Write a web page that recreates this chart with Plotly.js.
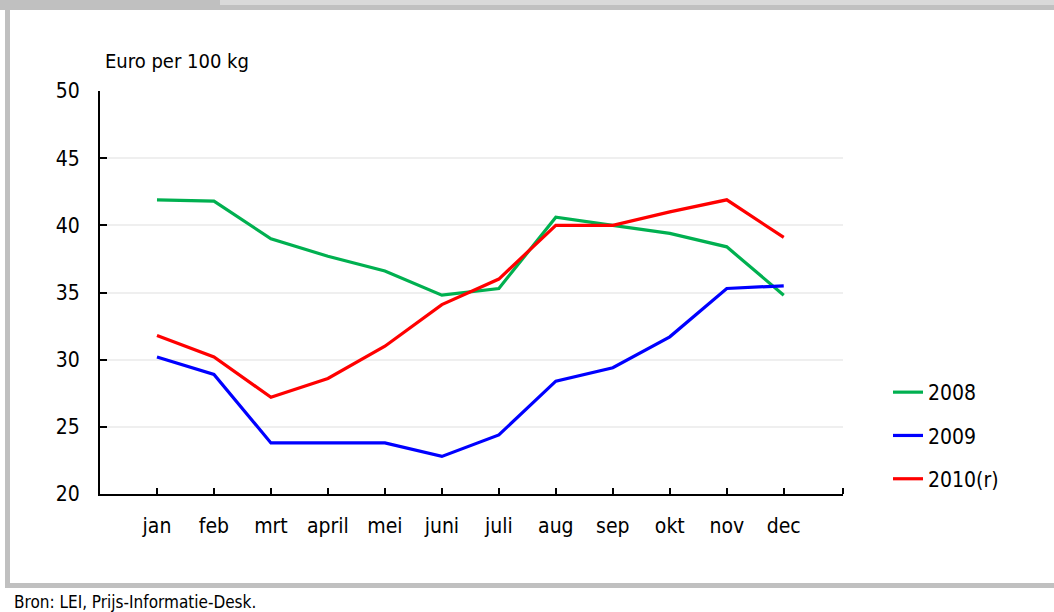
<!DOCTYPE html>
<html>
<head>
<meta charset="utf-8">
<script src="https://cdn.plot.ly/plotly-3.0.1.min.js"></script>
<style>
  html, body { margin: 0; padding: 0; background: #ffffff; }
  #wrap { position: relative; width: 1054px; height: 612px; overflow: hidden; }
  .bar { position: absolute; background: #c0c0c0; }
  #chart { position: absolute; left: 0; top: 0; width: 1054px; height: 612px; }
</style>
</head>
<body>
<div id="wrap">
  <div class="bar" style="left:0;top:0;width:1054px;height:5px;background:#d9d9d9;"></div>
  <div class="bar" style="left:0;top:5px;width:1054px;height:5px;"></div>
  <div class="bar" style="left:0;top:0;width:220px;height:10px;"></div>
  <div class="bar" style="left:5px;top:10px;width:5px;height:577px;"></div>
  <div class="bar" style="left:5px;top:583px;width:1049px;height:5px;"></div>
  <div id="chart"></div>
</div>
<script>
const months = ["jan", "feb", "mrt", "april", "mei", "juni", "juli", "aug", "sep", "okt", "nov", "dec"];
const seriesNames = ["2008", "2009", "2010(r)"];
const values2008 = [41.9, 41.8, 39.0, 37.7, 36.6, 34.8, 35.3, 40.6, 40.0, 39.4, 38.4, 34.8];
const values2009 = [30.2, 28.9, 23.8, 23.8, 23.8, 22.8, 24.4, 28.4, 29.4, 31.7, 35.3, 35.5];
const values2010 = [31.8, 30.2, 27.2, 28.6, 31.0, 34.1, 36.0, 40.0, 40.0, 41.0, 41.9, 39.1];
const seriesColors = ["#00b050", "#0000ff", "#ff0000"];
const yTicks = [20, 25, 30, 35, 40, 45, 50];
const yTitle = "Euro per 100 kg";
const sourceText = "Bron: LEI, Prijs-Informatie-Desk.";

const FONT = '"Liberation Sans Narrow", "DejaVu Sans Condensed", "Liberation Sans", sans-serif';
const allValues = [values2008, values2009, values2010];

const traces = allValues.map((vals, i) => ({
  type: "scatter",
  mode: "lines",
  x: months,
  y: vals,
  name: seriesNames[i],
  legendgroup: "g" + i,
  line: { color: seriesColors[i], width: 3.2 },
  hoverinfo: "x+y+name"
}));

const W = 1054, H = 612;
const M = { l: 100, r: 211, t: 91, b: 118 };
const pw = W - M.l - M.r, ph = H - M.t - M.b;
const px2x = px => (px - M.l) / pw;
const py2y = py => (H - M.b - py) / ph;

const layout = {
  width: W,
  height: H,
  margin: M,
  paper_bgcolor: "rgba(0,0,0,0)",
  plot_bgcolor: "rgba(0,0,0,0)",
  font: { family: FONT, size: 20, color: "#000000" },
  showlegend: true,
  legend: {
    x: px2x(888), xanchor: "left",
    y: py2y(372), yanchor: "top",
    traceorder: "grouped",
    tracegroupgap: 13,
    font: { family: FONT, size: 21, color: "#000000" },
    bgcolor: "rgba(0,0,0,0)"
  },
  xaxis: {
    type: "category",
    range: [-1, 12.04],
    showline: true,
    linecolor: "#000000",
    linewidth: 2,
    ticks: "inside",
    ticklen: 6,
    tickwidth: 2,
    tickcolor: "#000000",
    showgrid: false,
    zeroline: false,
    tickfont: { family: FONT, size: 21, color: "#000000" },
    ticklabelstandoff: 12,
    fixedrange: true
  },
  yaxis: {
    range: [20, 50],
    tickvals: yTicks,
    showline: true,
    linecolor: "#000000",
    linewidth: 2,
    ticks: "inside",
    ticklen: 7,
    tickwidth: 2,
    tickcolor: "#000000",
    showgrid: true,
    gridcolor: "#efefef",
    gridwidth: 2,
    zeroline: false,
    tickfont: { family: FONT, size: 21, color: "#000000" },
    ticklabelstandoff: 14,
    fixedrange: true
  },
  shapes: [
    { type: "line", xref: "paper", yref: "paper", x0: 1, x1: 1, y0: 0, y1: 6 / ph,
      line: { color: "#000000", width: 2 } }
  ],
  annotations: [
    { text: yTitle, xref: "paper", yref: "paper", x: px2x(103), y: py2y(61),
      xanchor: "left", yanchor: "middle", showarrow: false,
      font: { family: FONT, size: 20, color: "#000000" } },
    { text: sourceText, xref: "paper", yref: "paper", x: px2x(12), y: py2y(602),
      xanchor: "left", yanchor: "middle", showarrow: false,
      font: { family: FONT, size: 17, color: "#000000" } }
  ]
};

Plotly.newPlot("chart", traces, layout, { displayModeBar: false, staticPlot: true });
</script>
</body>
</html>
